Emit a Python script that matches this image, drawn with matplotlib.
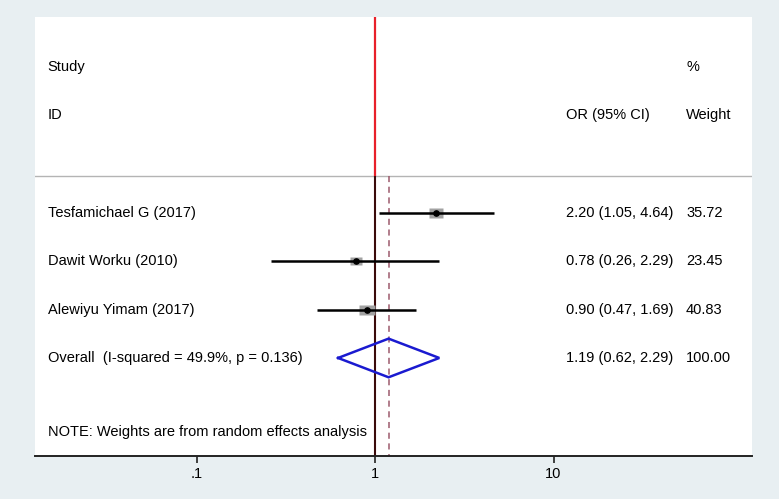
import numpy as np
import matplotlib
matplotlib.use("Agg")
import matplotlib.pyplot as plt
from matplotlib.path import Path

plt.rcParams['font.family'] = ['Liberation Sans', 'DejaVu Sans']

# ---- data ----
studies = ["Tesfamichael G (2017)", "Dawit Worku (2010)", "Alewiyu Yimam (2017)"]
or_est = [2.20, 0.78, 0.90]
ci_low = [1.05, 0.26, 0.47]
ci_high = [4.64, 2.29, 1.69]
weights = [35.72, 23.45, 40.83]
overall_label = "Overall  (I-squared = 49.9%, p = 0.136)"
overall_est = 1.19
overall_low = 0.62
overall_high = 2.29
overall_weight = 100.00
note = "NOTE: Weights are from random effects analysis"
tick_vals = [0.1, 1, 10]
tick_labels = [".1", "1", "10"]

# ---- layout ----
W, H = 779, 499
fig = plt.figure(figsize=(W / 100, H / 100), dpi=100)
bg = '#e8eff2'
fig.patch.set_facecolor(bg)
left_px, right_px, top_px, bot_px = 34.8, 751.6, 17, 456
ax = fig.add_axes([left_px / W, 1 - bot_px / H, (right_px - left_px) / W, (bot_px - top_px) / H])
ax.set_facecolor('white')
ax.set_xscale('log')
ax.set_xlim(0.01238, 128.9)
y_top, y_bot = -4.06, 5.03
ax.set_ylim(y_bot, y_top)

y_study, y_id, y_sep, y_overall, y_note = -3.02, -2.03, -0.77, 3.0, 4.53
rows = np.arange(len(studies))

fs = 10.5
x_lab, x_or, x_wt = 0.018, 0.7406, 0.9085
tr = ax.get_yaxis_transform()

# headers
ax.text(x_lab, y_study, "Study", transform=tr, fontsize=fs, va='center', ha='left')
ax.text(x_lab, y_id, "ID", transform=tr, fontsize=fs, va='center', ha='left')
ax.text(x_or, y_id, "OR (95% CI)", transform=tr, fontsize=fs, va='center', ha='left')
ax.text(x_wt, y_study, "%", transform=tr, fontsize=fs, va='center', ha='left')
ax.text(x_wt, y_id, "Weight", transform=tr, fontsize=fs, va='center', ha='left')

# separator
ax.axhline(y_sep, color='#b4b4b4', lw=1.0, zorder=1)

# vertical reference lines
ax.plot([1, 1], [y_top, y_sep], color='#e8202a', lw=1.6, zorder=2, solid_capstyle='butt')
ax.plot([1, 1], [y_sep, y_bot], color='#3a0a0a', lw=1.5, zorder=2, solid_capstyle='butt')
ax.plot([overall_est, overall_est], [y_sep, y_bot], color='#9c5a6c', lw=1.1,
        ls=(0, (4, 3)), zorder=2)

# rectangle marker (wider than tall)
rect = Path([(-0.5, -0.32), (0.5, -0.32), (0.5, 0.32), (-0.5, 0.32), (-0.5, -0.32)],
            [Path.MOVETO, Path.LINETO, Path.LINETO, Path.LINETO, Path.CLOSEPOLY])
wmax = max(weights)
for i, (name, e, lo, hi, w) in enumerate(zip(studies, or_est, ci_low, ci_high, weights)):
    y = rows[i]
    size_pt = 15.5 * np.sqrt(w / wmax) * 0.72
    ax.plot([e], [y], marker=rect, markersize=size_pt, color='#a2a2a2', mec='none', zorder=3)
    ax.plot([lo, hi], [y, y], color='black', lw=1.8, zorder=4, solid_capstyle='butt')
    ax.plot([e], [y], marker='o', markersize=3.8, color='black', zorder=5)
    ax.text(x_lab, y, name, transform=tr, fontsize=fs, va='center', ha='left')
    ax.text(x_or, y, f"{e:.2f} ({lo:.2f}, {hi:.2f})", transform=tr, fontsize=fs, va='center', ha='left')
    ax.text(x_wt, y, f"{w:.2f}", transform=tr, fontsize=fs, va='center', ha='left')

# overall diamond
dh = 0.40
ax.plot([overall_low, overall_est, overall_high, overall_est, overall_low],
        [y_overall, y_overall - dh, y_overall, y_overall + dh, y_overall],
        color='#1a1ad0', lw=1.8, zorder=4, solid_joinstyle='miter')
ax.text(x_lab, y_overall, overall_label, transform=tr, fontsize=fs, va='center', ha='left')
ax.text(x_or, y_overall, f"{overall_est:.2f} ({overall_low:.2f}, {overall_high:.2f})",
        transform=tr, fontsize=fs, va='center', ha='left')
ax.text(x_wt, y_overall, f"{overall_weight:.2f}", transform=tr, fontsize=fs, va='center', ha='left')

ax.text(x_lab, y_note, note, transform=tr, fontsize=fs, va='center', ha='left')

# axes styling
for s in ['top', 'left', 'right']:
    ax.spines[s].set_visible(False)
ax.spines['bottom'].set_linewidth(1.4)
ax.spines['bottom'].set_color('#222222')
ax.set_yticks([])
ax.set_xticks(tick_vals)
ax.set_xticklabels(tick_labels, fontsize=fs)
ax.xaxis.set_minor_locator(matplotlib.ticker.NullLocator())
ax.tick_params(axis='x', length=5, width=1.2, color='#222222', pad=3)

fig.savefig("out.png", dpi=100, facecolor=bg)
